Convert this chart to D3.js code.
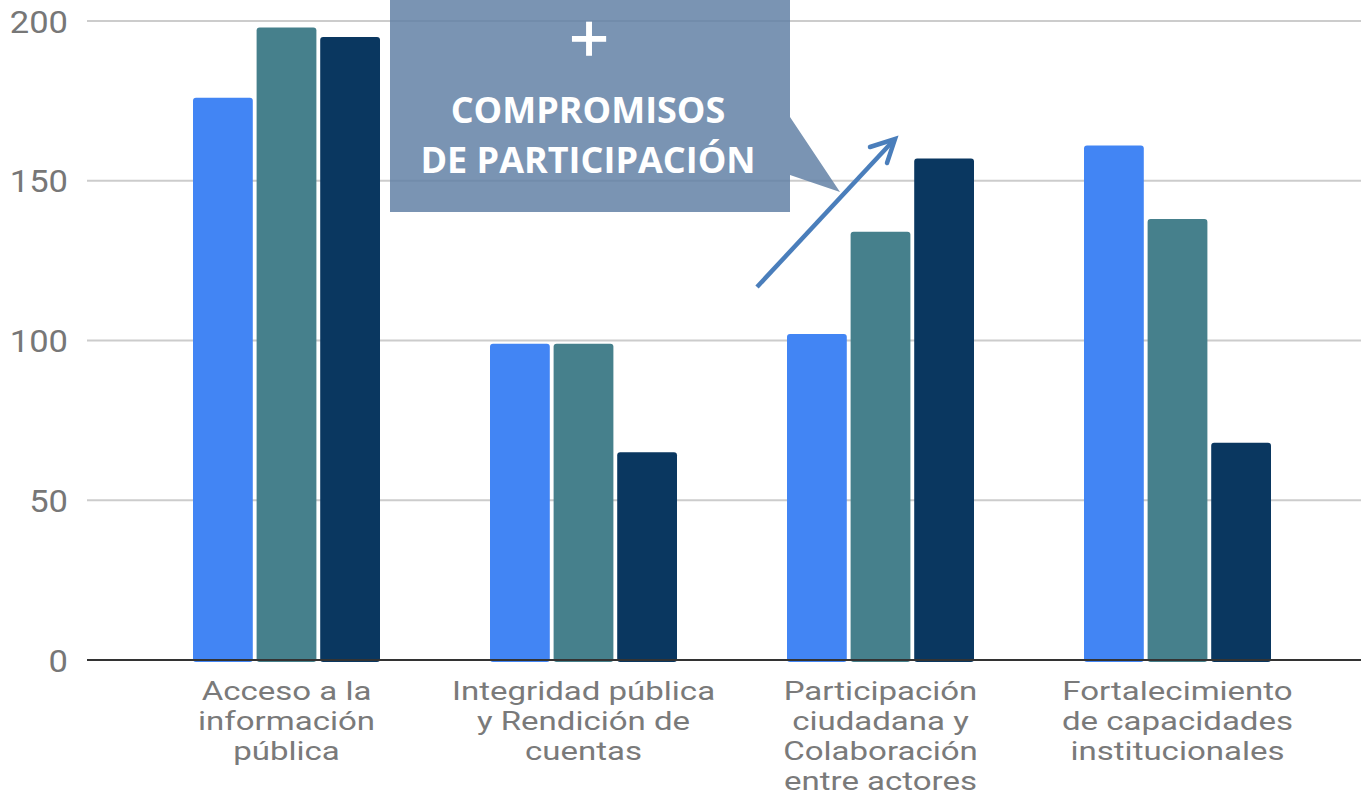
<!DOCTYPE html>
<html>
<head>
<meta charset="utf-8">
<script src="https://cdn.jsdelivr.net/npm/d3@7"></script>
<style>
  body { margin: 0; background: #fff; }
  svg { display: block; }
</style>
</head>
<body>
<div id="graph"></div>
<script>
// data
var categories = [
  ["Acceso a la", "información", "pública"],
  ["Integridad pública", "y Rendición de", "cuentas"],
  ["Participación", "ciudadana y", "Colaboración", "entre actores"],
  ["Fortalecimiento", "de capacidades", "institucionales"]
];
var seriesNames = ["s1", "s2", "s3"];
var s1 = [176, 99, 102, 161];
var s2 = [198, 99, 134, 138];
var s3 = [195, 65, 157, 68];
var yTicks = [0, 50, 100, 150, 200];

var colors = ["#4285f4", "#46808c", "#0a3760"];

var W = 1361, H = 795;
var svg = d3.select("#graph").append("svg")
    .attr("width", W).attr("height", H);

// scales
var x0 = d3.scaleBand().domain(d3.range(categories.length)).range([138, 1326]);
var bw = x0.bandwidth();
var x1 = d3.scaleBand().domain(seriesNames)
    .range([(bw - 187) / 2, (bw + 187) / 2]).paddingInner(0.06);
var y = d3.scaleLinear().domain([0, 200]).range([660, 21]);

// gridlines
svg.append("g")
  .selectAll("line")
  .data(yTicks.filter(function(d) { return d > 0; }))
  .enter().append("line")
    .attr("x1", 87).attr("x2", W)
    .attr("y1", function(d) { return y(d); })
    .attr("y2", function(d) { return y(d); })
    .attr("stroke", "#cccccc")
    .attr("stroke-width", 2);

// y labels
svg.append("g")
  .selectAll("text")
  .data(yTicks)
  .enter().append("text")
    .attr("transform", function(d) { return "translate(68," + y(d) + ") scale(1.08,1)"; })
    .attr("dy", "0.36em")
    .attr("text-anchor", "end")
    .style("font-family", "Roboto")
    .style("font-size", "32px")
    .attr("fill", "#777777")
    .text(function(d) { return d; });

// bars
var rows = categories.map(function(c, i) { return [s1[i], s2[i], s3[i]]; });
var groups = svg.append("g")
  .selectAll("g")
  .data(rows)
  .enter().append("g")
    .attr("transform", function(d, i) { return "translate(" + x0(i) + ",0)"; });

groups.selectAll("rect")
  .data(function(d) { return d.map(function(v, j) { return {k: seriesNames[j], v: v, j: j}; }); })
  .enter().append("rect")
    .attr("x", function(d) { return x1(d.k); })
    .attr("width", x1.bandwidth())
    .attr("y", function(d) { return y(d.v); })
    .attr("height", function(d) { return y(0) - y(d.v) + 2; })
    .attr("rx", 3)
    .attr("fill", function(d) { return colors[d.j]; });

// baseline
svg.append("line")
  .attr("x1", 87).attr("x2", W)
  .attr("y1", y(0)).attr("y2", y(0))
  .attr("stroke", "#333333")
  .attr("stroke-width", 2);

// category labels
var lab = svg.append("g")
  .selectAll("g")
  .data(categories)
  .enter().append("g")
    .attr("transform", function(d, i) { return "translate(" + (x0(i) + bw / 2) + ",700)"; });

lab.selectAll("text")
  .data(function(d) { return d; })
  .enter().append("text")
    .attr("transform", function(d, k) { return "translate(0," + (k * 30) + ") scale(1.27,1)"; })
    .attr("text-anchor", "middle")
    .style("font-family", "Roboto")
    .style("font-size", "26px")
    .attr("fill", "#7a7a7a")
    .text(function(d) { return d; });

// callout box
var bx0 = 390, bx1 = 790, by1 = 212;
svg.append("path")
  .attr("d", "M" + bx0 + ",0 H" + bx1 + " V117 L840,192 L" + bx1 + ",175 V" + by1 + " H" + bx0 + " Z")
  .attr("fill", "#5f7ea4")
  .attr("fill-opacity", 0.83);

svg.append("text")
  .attr("x", 589).attr("y", 55)
  .attr("text-anchor", "middle")
  .style("font-family", "DejaVu Sans")
  .style("font-size", "52px")
  .attr("fill", "#ffffff")
  .attr("stroke", "#ffffff")
  .attr("stroke-width", 1.6)
  .text("+");

svg.append("text")
  .attr("x", 588).attr("y", 123)
  .attr("text-anchor", "middle")
  .style("font-family", "Open Sans")
  .style("font-weight", "bold")
  .style("font-size", "36px")
  .attr("fill", "#ffffff")
  .text("COMPROMISOS");

svg.append("text")
  .attr("x", 588).attr("y", 173)
  .attr("text-anchor", "middle")
  .style("font-family", "Open Sans")
  .style("font-weight", "bold")
  .style("font-size", "36px")
  .attr("fill", "#ffffff")
  .text("DE PARTICIPACIÓN");

// arrow
var ax0 = 757, ay0 = 287, ax1 = 895, ay1 = 139;
svg.append("line")
  .attr("x1", ax0).attr("y1", ay0)
  .attr("x2", ax1 - 2).attr("y2", ay1 + 2)
  .attr("stroke", "#4a7ebb")
  .attr("stroke-width", 4.5);
svg.append("path")
  .attr("d", "M870,147 L" + ax1 + "," + ay1 + " L887,163")
  .attr("fill", "none")
  .attr("stroke", "#4a7ebb")
  .attr("stroke-width", 4.5)
  .attr("stroke-linecap", "round")
  .attr("stroke-linejoin", "miter");
</script>
</body>
</html>
